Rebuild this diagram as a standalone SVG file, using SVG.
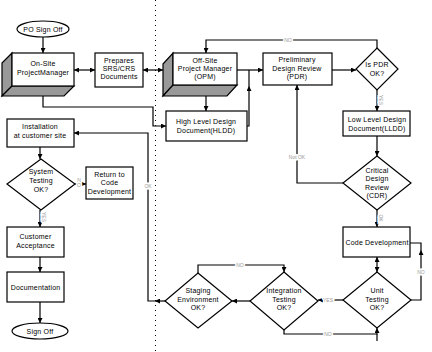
<svg xmlns="http://www.w3.org/2000/svg" width="432" height="352" viewBox="0 0 432 352">
<defs>
<marker id="ah" viewBox="0 0 10 10" refX="10" refY="5" markerWidth="5" markerHeight="5" orient="auto-start-reverse" markerUnits="userSpaceOnUse">
<path d="M0,0 L10,5 L0,10 z" fill="#000"/>
</marker>
<style>
.b{fill:#fff;stroke:#000;stroke-width:1.2}
.g{fill:#999;stroke:#000;stroke-width:1.2}
.t{font-family:"Liberation Sans",Arial,sans-serif;font-size:7px;fill:#000;text-anchor:middle;letter-spacing:0.2px}
.c{fill:none;stroke:#000;stroke-width:1.2}
.l{font-family:"Liberation Sans",Arial,sans-serif;font-size:5px;fill:#999;text-anchor:middle;stroke:#fff;stroke-width:3px;paint-order:stroke}
.d{stroke:#000;stroke-width:1;stroke-dasharray:1 4;fill:none}
</style>
</defs>
<rect width="432" height="352" fill="#fff"/>
<line class="d" x1="155.5" y1="0" x2="155.5" y2="352"/>

<g id="connectors">
<path class="c" d="M43,37 V53" marker-end="url(#ah)"/>
<path class="c" d="M74,70 H95" marker-start="url(#ah)" marker-end="url(#ah)"/>
<path class="c" d="M143,70 H163" marker-start="url(#ah)" marker-end="url(#ah)"/>
<path class="c" d="M206,86 V111" marker-start="url(#ah)" marker-end="url(#ah)"/>
<path class="c" d="M43,86 V107 H153 V126 H166" marker-start="url(#ah)" marker-end="url(#ah)"/>
<path class="c" d="M247,126 H249 V86" marker-end="url(#ah)"/>
<path class="c" d="M249,86 V70"/>
<path class="c" d="M237,70 H263" marker-end="url(#ah)"/>
<path class="c" d="M332,70 H356" marker-end="url(#ah)"/>
<path class="c" d="M377,48 V40 H206 V53" marker-end="url(#ah)"/>
<path class="c" d="M377,90 V111" marker-end="url(#ah)"/>
<path class="c" d="M377,136 V156" marker-end="url(#ah)"/>
<path class="c" d="M343,183 H297 V85" marker-end="url(#ah)"/>
<path class="c" d="M377,210 V227" marker-end="url(#ah)"/>
<path class="c" d="M377,257 V272" marker-start="url(#ah)" marker-end="url(#ah)"/>
<path class="c" d="M411,300 H421 V250" marker-end="url(#ah)"/>
<path class="c" d="M421,250 V243 H410"/>
<path class="c" d="M343,300 H318" marker-end="url(#ah)"/>
<path class="c" d="M284,330 V334 H377 V328" marker-end="url(#ah)"/>
<path class="c" d="M377,334 V341"/>
<path class="c" d="M250,301 H232" marker-end="url(#ah)"/>
<path class="c" d="M198,273 V265 H284 V272" marker-end="url(#ah)"/>
<path class="c" d="M165,301 H155" marker-end="url(#ah)"/>
<path class="c" d="M155,301 H148 V133 H74" marker-end="url(#ah)"/>
<path class="c" d="M40,147 V159" marker-end="url(#ah)"/>
<path class="c" d="M75,184 H86" marker-end="url(#ah)"/>
<path class="c" d="M40,210 V227" marker-end="url(#ah)"/>
<path class="c" d="M40,257 V272" marker-end="url(#ah)"/>
<path class="c" d="M40,302 V323" marker-end="url(#ah)"/>
<text class="l" x="288" y="42">NO</text>
<text class="l" transform="translate(379,100) rotate(90)">YES</text>
<text class="l" x="297" y="159">Not OK</text>
<text class="l" transform="translate(379,218) rotate(90)">OK</text>
<text class="l" x="421" y="274">NO</text>
<text class="l" x="328" y="302">YES</text>
<text class="l" x="328" y="336">NO</text>
<text class="l" x="240" y="267">NO</text>
<text class="l" x="148" y="188">OK</text>
<text class="l" x="79" y="182"><tspan x="79">N</tspan><tspan x="79" dy="5">O</tspan></text>
<text class="l" transform="translate(42,217) rotate(90)">YES</text>
</g>

<g id="po-sign-off">
<ellipse class="b" cx="43" cy="29" rx="26" ry="8"/>
<text class="t" x="43" y="31.5">PO Sign Off</text>
</g>
<g id="onsite-pm">
<polygon class="g" points="2,63 12,53 12,86 2,96"/>
<polygon class="g" points="2,96 12,86 74,86 64,96"/>
<rect class="b" x="12" y="53" width="62" height="33"/>
<text class="t" x="43" y="66">On-Site</text>
<text class="t" x="43" y="75">ProjectManager</text>
</g>
<g id="prepares-srs">
<rect class="b" x="95" y="53" width="48" height="34"/>
<text class="t" x="119" y="63">Prepares</text>
<text class="t" x="119" y="71">SRS/CRS</text>
<text class="t" x="119" y="79">Documents</text>
</g>
<g id="offsite-pm">
<polygon class="g" points="163,64 173,53 173,85 163,96"/>
<polygon class="g" points="163,96 173,85 237,85 227,96"/>
<rect class="b" x="173" y="53" width="64" height="32"/>
<text class="t" x="205" y="63">Off-Site</text>
<text class="t" x="205" y="71">Project Manager</text>
<text class="t" x="205" y="79">(OPM)</text>
</g>
<g id="hldd">
<rect class="b" x="166" y="111" width="81" height="30"/>
<text class="t" x="206" y="124">High Level Design</text>
<text class="t" x="206" y="133">Document(HLDD)</text>
</g>
<g id="pdr">
<rect class="b" x="263" y="53" width="69" height="32"/>
<text class="t" x="297" y="62">Preliminary</text>
<text class="t" x="297" y="71">Design Review</text>
<text class="t" x="297" y="79">(PDR)</text>
</g>
<g id="is-pdr-ok">
<polygon class="b" points="377,48 398,69 377,90 356,69"/>
<text class="t" x="377" y="67">Is PDR</text>
<text class="t" x="377" y="76">OK?</text>
</g>
<g id="lldd">
<rect class="b" x="343" y="111" width="67" height="25"/>
<text class="t" x="377" y="122">Low Level Design</text>
<text class="t" x="377" y="131">Document(LLDD)</text>
</g>
<g id="cdr">
<polygon class="b" points="377,156 411,183 377,210 343,183"/>
<text class="t" x="377" y="173">Critical</text>
<text class="t" x="377" y="181">Design</text>
<text class="t" x="377" y="190">Review</text>
<text class="t" x="377" y="198">(CDR)</text>
</g>
<g id="code-dev">
<rect class="b" x="343" y="227" width="67" height="30"/>
<text class="t" x="377" y="245">Code Development</text>
</g>
<g id="unit-testing">
<polygon class="b" points="377,272 411,300 377,328 343,300"/>
<text class="t" x="377" y="293">Unit</text>
<text class="t" x="377" y="302">Testing</text>
<text class="t" x="377" y="310">OK?</text>
</g>
<g id="integration-testing">
<polygon class="b" points="284,272 318,301 284,330 250,301"/>
<text class="t" x="284" y="293">Integration</text>
<text class="t" x="284" y="302">Testing</text>
<text class="t" x="284" y="310">OK?</text>
</g>
<g id="staging">
<polygon class="b" points="198,273 232,301 198,328 165,301"/>
<text class="t" x="198" y="293">Staging</text>
<text class="t" x="198" y="302">Environment</text>
<text class="t" x="198" y="310">OK?</text>
</g>
<g id="installation">
<rect class="b" x="7" y="119" width="67" height="28"/>
<text class="t" x="40" y="129">Installation</text>
<text class="t" x="40" y="138">at customer site</text>
</g>
<g id="system-testing">
<polygon class="b" points="41,159 75,184 41,210 7,184"/>
<text class="t" x="41" y="174">System</text>
<text class="t" x="41" y="183">Testing</text>
<text class="t" x="41" y="192">OK?</text>
</g>
<g id="return-code">
<rect class="b" x="86" y="167" width="47" height="32"/>
<text class="t" x="109.5" y="177">Return to</text>
<text class="t" x="109.5" y="185">Code</text>
<text class="t" x="109.5" y="194">Development</text>
</g>
<g id="customer-acceptance">
<rect class="b" x="7" y="227" width="57" height="30"/>
<text class="t" x="35.5" y="239">Customer</text>
<text class="t" x="35.5" y="248">Acceptance</text>
</g>
<g id="documentation">
<rect class="b" x="7" y="272" width="57" height="30"/>
<text class="t" x="35.5" y="290">Documentation</text>
</g>
<g id="sign-off">
<ellipse class="b" cx="40" cy="331" rx="28" ry="8"/>
<text class="t" x="40" y="333.5">Sign Off</text>
</g>
</svg>
